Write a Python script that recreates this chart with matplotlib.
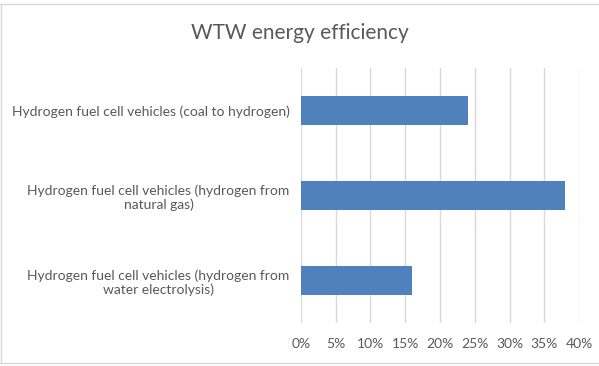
import matplotlib
matplotlib.use("Agg")
import matplotlib.pyplot as plt
from matplotlib.ticker import PercentFormatter
from matplotlib.lines import Line2D

plt.rcParams['font.family'] = ['Lato', 'DejaVu Sans']

# data (top to bottom as in the chart)
categories = [
    "Hydrogen fuel cell vehicles (coal to hydrogen)",
    "Hydrogen fuel cell vehicles (hydrogen from\nnatural gas)",
    "Hydrogen fuel cell vehicles (hydrogen from\nwater electrolysis)",
]
efficiency = [24, 38, 16]
x_ticks = [0, 5, 10, 15, 20, 25, 30, 35, 40]

bar_color = '#4f81bd'
text_color = '#595959'
grid_color = '#d9d9d9'

fig = plt.figure(figsize=(5.99, 3.66), dpi=100)
ax = fig.add_axes([0.502, 0.1175, 0.465, 0.6965])

pos = list(range(len(categories)))
ax.barh(pos, efficiency, height=0.35, color=bar_color, zorder=3)
ax.set_ylim(len(categories) - 0.5, -0.5)
ax.set_xlim(0, 40)
ax.set_xticks(x_ticks)
ax.xaxis.set_major_formatter(PercentFormatter(decimals=0))
ax.set_yticks(pos)
ax.set_yticklabels(categories, multialignment='center')

ax.grid(axis='x', color=grid_color, linewidth=1, zorder=0)
for s in ax.spines.values():
    s.set_visible(False)
ax.tick_params(axis='both', length=0, labelsize=10, labelcolor=text_color)
ax.tick_params(axis='x', pad=11)
ax.tick_params(axis='y', pad=8)

fig.text(300 / 599, 1 - 39 / 366, "WTW energy efficiency", ha='center', va='baseline',
         fontsize=15, color=text_color)

# chart area border
fig.add_artist(Line2D([0, 1], [1 - 3.5 / 366, 1 - 3.5 / 366], color=grid_color, lw=1))
fig.add_artist(Line2D([0, 1], [1 - 362.5 / 366, 1 - 362.5 / 366], color=grid_color, lw=1))
fig.add_artist(Line2D([0.5 / 599, 0.5 / 599], [1 - 362.5 / 366, 1 - 3.5 / 366], color=grid_color, lw=1))

fig.savefig("out.png", dpi=100, facecolor='white')
